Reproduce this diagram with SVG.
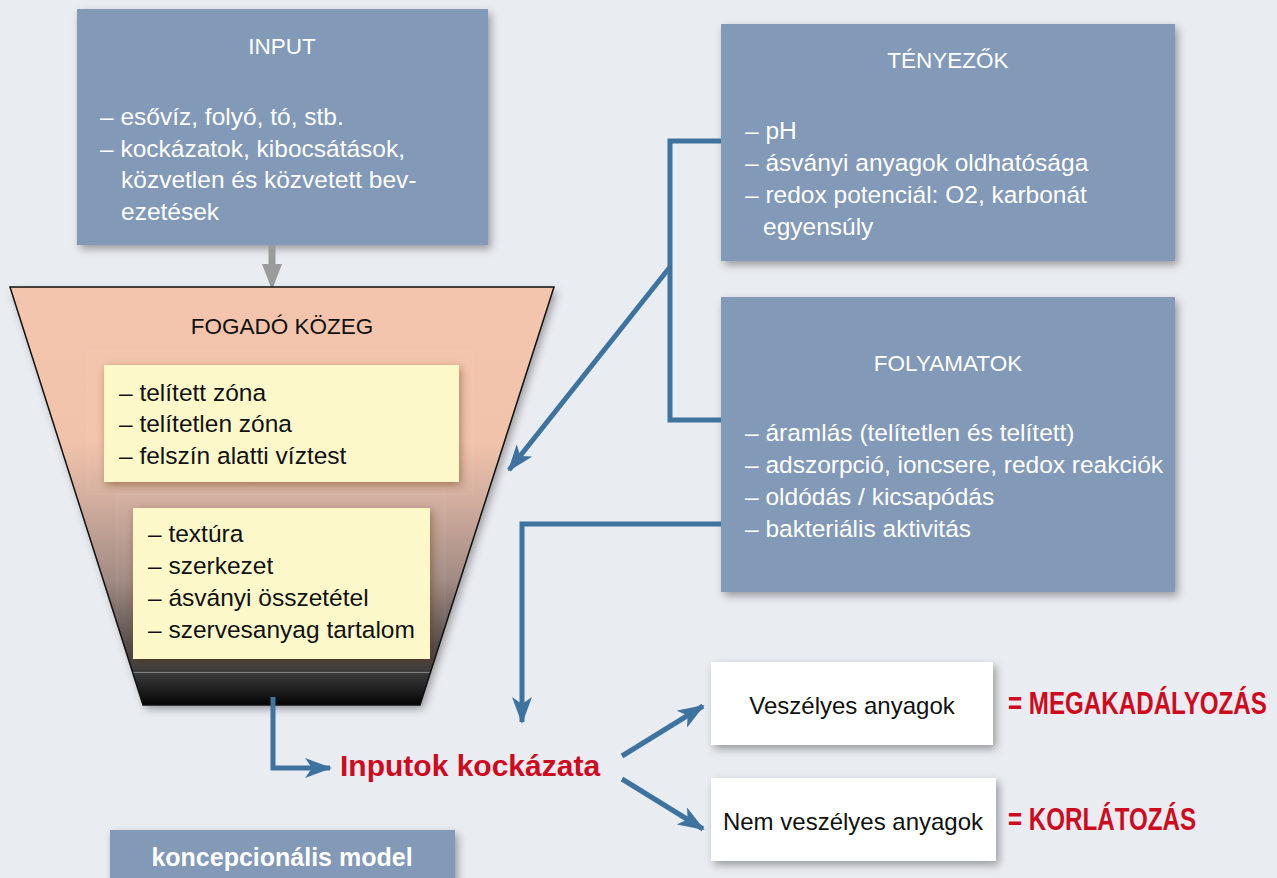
<svg xmlns="http://www.w3.org/2000/svg" width="1277" height="878" viewBox="0 0 1277 878">
<defs>
  <style>
    .box{fill:#8299b7;filter:url(#sh)}
    .wbox{fill:#ffffff;filter:url(#sh)}
    .ybox{fill:#fdf8c9;filter:url(#sh2)}
    .t{font-family:"Liberation Sans",Arial,sans-serif;}
    .title{font-size:22.5px;fill:#ffffff;text-anchor:middle}
    .body{font-size:24.5px;fill:#ffffff}
    .dark{font-size:24.5px;fill:#111111}
    .red{font-weight:bold;fill:#cf0a1f}
    .conn{fill:none;stroke:#3f739f;stroke-width:5}
  </style>
  <filter id="sh" x="-10%" y="-10%" width="125%" height="130%">
    <feDropShadow dx="3" dy="4" stdDeviation="4" flood-color="#000" flood-opacity="0.35"/>
  </filter>
  <filter id="sh2" x="-10%" y="-10%" width="125%" height="130%">
    <feDropShadow dx="2" dy="3" stdDeviation="4" flood-color="#5a2a10" flood-opacity="0.45"/>
  </filter>
  <linearGradient id="fun" gradientUnits="userSpaceOnUse" x1="0" y1="287" x2="0" y2="705">
    <stop offset="0" stop-color="#f4c5ad"/>
    <stop offset="0.37" stop-color="#f2c3ab"/>
    <stop offset="0.51" stop-color="#d2ae9e"/>
    <stop offset="0.70" stop-color="#a28b83"/>
    <stop offset="0.86" stop-color="#524a48"/>
    <stop offset="0.91" stop-color="#3e3d3d"/>
    <stop offset="1" stop-color="#050505"/>
  </linearGradient>
  <linearGradient id="band" gradientUnits="userSpaceOnUse" x1="0" y1="672" x2="0" y2="705">
    <stop offset="0" stop-color="#3c3c3c"/>
    <stop offset="1" stop-color="#050505"/>
  </linearGradient>
  <clipPath id="funclip">
    <polygon points="10,287 554,287 420,705 143,705"/>
  </clipPath>
  <marker id="ah" markerUnits="userSpaceOnUse" viewBox="0 0 27 20" markerWidth="27" markerHeight="20" refX="25" refY="10" orient="auto">
    <path d="M0,0 L27,10 L0,20 L7,10 z" fill="#3f739f"/>
  </marker>
</defs>

<rect x="0" y="0" width="1277" height="878" fill="#e9ecf1"/>

<!-- INPUT -->
<g id="input">
  <rect class="box" x="77" y="9" width="411" height="236"/>
  <text class="t title" x="282" y="54">INPUT</text>
  <text class="t body" x="100" y="125">– esővíz, folyó, tó, stb.</text>
  <text class="t body" x="100" y="157">– kockázatok, kibocsátások,</text>
  <text class="t body" x="121" y="188">közvetlen és közvetett bev-</text>
  <text class="t body" x="121" y="220">ezetések</text>
</g>

<!-- gray arrow -->
<g id="input-arrow">
  <rect x="268.5" y="245" width="7" height="22" fill="#9b9b9b"/>
  <polygon points="262,264 282,264 272,290" fill="#9b9b9b"/>
</g>

<!-- FOGADÓ KÖZEG funnel -->
<g id="fogado">
  <polygon points="10,287 554,287 420,705 143,705" fill="url(#fun)" filter="url(#sh)"/>
  <g clip-path="url(#funclip)">
    <rect x="0" y="672" width="560" height="40" fill="url(#band)"/>
    <line x1="0" y1="672.5" x2="560" y2="672.5" stroke="#7a7a7a" stroke-width="1"/>
    <rect x="88" y="351" width="385" height="143" fill="#ffffff" fill-opacity="0.02" stroke="#ffffff" stroke-opacity="0.07"/>
    <rect x="117" y="494" width="328" height="178" fill="#ffffff" fill-opacity="0.02" stroke="#ffffff" stroke-opacity="0.08"/>
  </g>
  <polygon points="10,287 554,287 420,705 143,705" fill="none" stroke="#111" stroke-width="1.5"/>
  <text class="t" x="282" y="334" font-size="22.5" fill="#111" text-anchor="middle">FOGADÓ KÖZEG</text>
</g>

<g id="zones">
  <rect class="ybox" x="104" y="365" width="355" height="117"/>
  <text class="t dark" x="119" y="401">– telített zóna</text>
  <text class="t dark" x="119" y="432">– telítetlen zóna</text>
  <text class="t dark" x="119" y="464">– felszín alatti víztest</text>
</g>

<g id="properties">
  <rect class="ybox" x="133" y="508" width="297" height="151"/>
  <text class="t dark" x="148" y="542">– textúra</text>
  <text class="t dark" x="148" y="574">– szerkezet</text>
  <text class="t dark" x="148" y="606">– ásványi összetétel</text>
  <text class="t dark" x="148" y="638">– szervesanyag tartalom</text>
</g>

<!-- TÉNYEZŐK -->
<g id="tenyezok">
  <rect class="box" x="721" y="24" width="454" height="237"/>
  <text class="t title" x="948" y="68">TÉNYEZŐK</text>
  <text class="t body" x="745" y="139">– pH</text>
  <text class="t body" x="745" y="171">– ásványi anyagok oldhatósága</text>
  <text class="t body" x="745" y="203">– redox potenciál: O2, karbonát</text>
  <text class="t body" x="763" y="235">egyensúly</text>
</g>

<!-- FOLYAMATOK -->
<g id="folyamatok">
  <rect class="box" x="721" y="297" width="454" height="295"/>
  <text class="t title" x="948" y="371">FOLYAMATOK</text>
  <text class="t body" x="745" y="441">– áramlás (telítetlen és telített)</text>
  <text class="t body" x="745" y="473">– adszorpció, ioncsere, redox reakciók</text>
  <text class="t body" x="745" y="505">– oldódás / kicsapódás</text>
  <text class="t body" x="745" y="537">– bakteriális aktivitás</text>
</g>

<!-- connectors -->
<g id="connectors">
  <polyline class="conn" points="721,141 670,141 670,420 721,420"/>
  <line class="conn" x1="670" y1="267" x2="509" y2="470" marker-end="url(#ah)"/>
  <polyline class="conn" points="721,524 522,524 522,722" marker-end="url(#ah)"/>
  <polyline class="conn" points="273,697 273,768 330,768" marker-end="url(#ah)"/>
  <line class="conn" x1="622" y1="756" x2="703" y2="706" marker-end="url(#ah)"/>
  <line class="conn" x1="622" y1="779" x2="703" y2="829" marker-end="url(#ah)"/>
</g>

<g id="risk">
  <text class="t red" x="340" y="776" font-size="30">Inputok kockázata</text>
</g>

<g id="veszelyes">
  <rect class="wbox" x="711" y="662" width="282" height="83"/>
  <text class="t" x="852" y="714" font-size="24" fill="#111" text-anchor="middle">Veszélyes anyagok</text>
</g>
<g id="megakadalyozas">
  <text class="t red" font-size="31" transform="translate(1008,714) scale(0.78,1)">= MEGAKADÁLYOZÁS</text>
</g>

<g id="nemveszelyes">
  <rect class="wbox" x="711" y="778" width="285" height="83"/>
  <text class="t" x="853" y="830" font-size="24" fill="#111" text-anchor="middle">Nem veszélyes anyagok</text>
</g>
<g id="korlatozas">
  <text class="t red" font-size="31" transform="translate(1008,830) scale(0.78,1)">= KORLÁTOZÁS</text>
</g>

<g id="model">
  <rect class="box" x="110" y="830" width="345" height="60"/>
  <text class="t" x="282" y="866" font-size="25" font-weight="bold" fill="#ffffff" text-anchor="middle">koncepcionális model</text>
</g>
</svg>
